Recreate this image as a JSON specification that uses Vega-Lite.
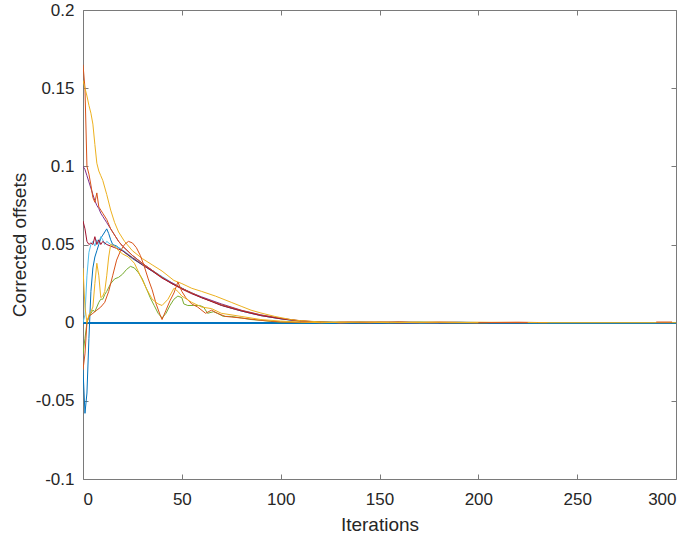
{
"$schema": "https://vega.github.io/schema/vega-lite/v6.json",
"width": 593, "height": 469,
"autosize": {"type": "none"},
"padding": {"left": 83, "top": 10, "right": 20, "bottom": 60},
"background": "white",
"config": {"view": {"stroke": null}, "axis": {"grid": false, "domainColor": "#7a7a7a", "tickColor": "#7a7a7a", "tickSize": -5, "labelFont": "Liberation Sans", "labelFontSize": 17, "labelColor": "#262626", "titleFont": "Liberation Sans", "titleFontSize": 19, "titleFontWeight": "normal", "titleColor": "#262626"}},
"data": {"values": [
{"s":"b","i":0,"v":-0.03},{"s":"b","i":1,"v":-0.058},{"s":"b","i":2,"v":-0.045},{"s":"b","i":3,"v":-0.01},{"s":"b","i":4,"v":0.02},{"s":"b","i":5,"v":0.035},{"s":"b","i":6,"v":0.042},{"s":"b","i":7,"v":0.046},{"s":"b","i":8,"v":0.05},{"s":"b","i":9,"v":0.054},{"s":"b","i":10,"v":0.056},{"s":"b","i":11,"v":0.058},{"s":"b","i":12,"v":0.06},{"s":"b","i":13,"v":0.057},{"s":"b","i":14,"v":0.053},{"s":"b","i":15,"v":0.05},{"s":"b","i":17,"v":0.049},{"s":"b","i":20,"v":0.046},{"s":"b","i":25,"v":0.041},{"s":"b","i":30,"v":0.037},{"s":"b","i":35,"v":0.033},{"s":"b","i":40,"v":0.029},{"s":"b","i":45,"v":0.025},{"s":"b","i":50,"v":0.022},{"s":"b","i":55,"v":0.019},{"s":"b","i":60,"v":0.016},{"s":"b","i":65,"v":0.0138},{"s":"b","i":70,"v":0.0112},{"s":"b","i":75,"v":0.0093},{"s":"b","i":80,"v":0.0076},{"s":"b","i":85,"v":0.006},{"s":"b","i":90,"v":0.0046},{"s":"b","i":95,"v":0.0035},{"s":"b","i":100,"v":0.0025},{"s":"b","i":105,"v":0.0016},{"s":"b","i":110,"v":0.001},{"s":"b","i":115,"v":0.0005},{"s":"b","i":120,"v":0.0002},{"s":"b","i":130,"v":0},{"s":"b","i":140,"v":0.0004},{"s":"b","i":150,"v":0},{"s":"b","i":160,"v":0.0003},{"s":"b","i":170,"v":0},{"s":"b","i":190,"v":0.0003},{"s":"b","i":205,"v":0},
{"s":"c","i":0,"v":0.0},{"s":"c","i":1,"v":0.005},{"s":"c","i":2,"v":0.03},{"s":"c","i":3,"v":0.045},{"s":"c","i":4,"v":0.05},{"s":"c","i":5,"v":0.052},{"s":"c","i":6,"v":0.049},{"s":"c","i":7,"v":0.053},{"s":"c","i":8,"v":0.051},{"s":"c","i":9,"v":0.055},{"s":"c","i":10,"v":0.053},{"s":"c","i":11,"v":0.05},{"s":"c","i":12,"v":0.052},{"s":"c","i":14,"v":0.05},{"s":"c","i":16,"v":0.049},{"s":"c","i":18,"v":0.048},{"s":"c","i":20,"v":0.0465},{"s":"c","i":25,"v":0.0418},{"s":"c","i":30,"v":0.0375},{"s":"c","i":35,"v":0.0335},{"s":"c","i":40,"v":0.0295},{"s":"c","i":45,"v":0.0255},{"s":"c","i":50,"v":0.0222},{"s":"c","i":55,"v":0.0188},{"s":"c","i":60,"v":0.0162},{"s":"c","i":70,"v":0.0112},{"s":"c","i":80,"v":0.0075},{"s":"c","i":90,"v":0.0045},{"s":"c","i":100,"v":0.0025},{"s":"c","i":110,"v":0.001},{"s":"c","i":120,"v":0.0003},{"s":"c","i":130,"v":0},{"s":"c","i":150,"v":0.0003},{"s":"c","i":165,"v":0},{"s":"c","i":180,"v":0},
{"s":"p","i":0,"v":0.1},{"s":"p","i":1,"v":0.098},{"s":"p","i":2,"v":0.094},{"s":"p","i":3,"v":0.09},{"s":"p","i":4,"v":0.086},{"s":"p","i":5,"v":0.082},{"s":"p","i":6,"v":0.078},{"s":"p","i":7,"v":0.075},{"s":"p","i":8,"v":0.073},{"s":"p","i":9,"v":0.07},{"s":"p","i":10,"v":0.068},{"s":"p","i":12,"v":0.064},{"s":"p","i":14,"v":0.06},{"s":"p","i":16,"v":0.056},{"s":"p","i":18,"v":0.052},{"s":"p","i":20,"v":0.049},{"s":"p","i":25,"v":0.043},{"s":"p","i":30,"v":0.038},{"s":"p","i":35,"v":0.0335},{"s":"p","i":40,"v":0.029},{"s":"p","i":45,"v":0.0255},{"s":"p","i":50,"v":0.022},{"s":"p","i":55,"v":0.019},{"s":"p","i":60,"v":0.0165},{"s":"p","i":70,"v":0.012},{"s":"p","i":80,"v":0.008},{"s":"p","i":90,"v":0.005},{"s":"p","i":100,"v":0.0028},{"s":"p","i":110,"v":0.0012},{"s":"p","i":120,"v":0.0004},{"s":"p","i":130,"v":0},{"s":"p","i":145,"v":0.0003},{"s":"p","i":160,"v":0},{"s":"p","i":200,"v":0},
{"s":"r","i":0,"v":0.165},{"s":"r","i":1,"v":0.15},{"s":"r","i":2,"v":0.1},{"s":"r","i":3,"v":0.095},{"s":"r","i":4,"v":0.088},{"s":"r","i":5,"v":0.08},{"s":"r","i":6,"v":0.077},{"s":"r","i":7,"v":0.083},{"s":"r","i":8,"v":0.074},{"s":"r","i":9,"v":0.072},{"s":"r","i":10,"v":0.07},{"s":"r","i":12,"v":0.066},{"s":"r","i":14,"v":0.06},{"s":"r","i":16,"v":0.056},{"s":"r","i":18,"v":0.052},{"s":"r","i":20,"v":0.049},{"s":"r","i":25,"v":0.043},{"s":"r","i":30,"v":0.038},{"s":"r","i":35,"v":0.0335},{"s":"r","i":40,"v":0.029},{"s":"r","i":45,"v":0.025},{"s":"r","i":50,"v":0.022},{"s":"r","i":55,"v":0.019},{"s":"r","i":60,"v":0.016},{"s":"r","i":70,"v":0.0115},{"s":"r","i":80,"v":0.0078},{"s":"r","i":90,"v":0.0048},{"s":"r","i":100,"v":0.0027},{"s":"r","i":110,"v":0.0011},{"s":"r","i":120,"v":0.0004},{"s":"r","i":130,"v":0},{"s":"r","i":150,"v":0.0004},{"s":"r","i":160,"v":0},{"s":"r","i":180,"v":0.0004},{"s":"r","i":200,"v":0},{"s":"r","i":220,"v":0.0003},{"s":"r","i":235,"v":0},
{"s":"d","i":0,"v":0.065},{"s":"d","i":1,"v":0.06},{"s":"d","i":2,"v":0.052},{"s":"d","i":3,"v":0.05},{"s":"d","i":4,"v":0.051},{"s":"d","i":5,"v":0.05},{"s":"d","i":6,"v":0.055},{"s":"d","i":7,"v":0.05},{"s":"d","i":8,"v":0.053},{"s":"d","i":9,"v":0.05},{"s":"d","i":10,"v":0.052},{"s":"d","i":12,"v":0.05},{"s":"d","i":14,"v":0.049},{"s":"d","i":16,"v":0.048},{"s":"d","i":18,"v":0.047},{"s":"d","i":20,"v":0.046},{"s":"d","i":25,"v":0.0415},{"s":"d","i":30,"v":0.037},{"s":"d","i":35,"v":0.033},{"s":"d","i":40,"v":0.0285},{"s":"d","i":45,"v":0.025},{"s":"d","i":50,"v":0.0215},{"s":"d","i":55,"v":0.0185},{"s":"d","i":60,"v":0.016},{"s":"d","i":70,"v":0.011},{"s":"d","i":80,"v":0.0075},{"s":"d","i":90,"v":0.0045},{"s":"d","i":100,"v":0.0025},{"s":"d","i":110,"v":0.001},{"s":"d","i":120,"v":0.0003},{"s":"d","i":130,"v":0},{"s":"d","i":170,"v":0},
{"s":"y1","i":0,"v":0.155},{"s":"y1","i":1,"v":0.15},{"s":"y1","i":2,"v":0.145},{"s":"y1","i":3,"v":0.139},{"s":"y1","i":4,"v":0.134},{"s":"y1","i":5,"v":0.127},{"s":"y1","i":6,"v":0.114},{"s":"y1","i":7,"v":0.102},{"s":"y1","i":8,"v":0.097},{"s":"y1","i":9,"v":0.094},{"s":"y1","i":10,"v":0.091},{"s":"y1","i":12,"v":0.082},{"s":"y1","i":14,"v":0.072},{"s":"y1","i":16,"v":0.064},{"s":"y1","i":18,"v":0.058},{"s":"y1","i":21,"v":0.052},{"s":"y1","i":25,"v":0.046},{"s":"y1","i":30,"v":0.041},{"s":"y1","i":35,"v":0.037},{"s":"y1","i":40,"v":0.033},{"s":"y1","i":46,"v":0.027},{"s":"y1","i":50,"v":0.025},{"s":"y1","i":55,"v":0.022},{"s":"y1","i":60,"v":0.02},{"s":"y1","i":67,"v":0.017},{"s":"y1","i":75,"v":0.013},{"s":"y1","i":80,"v":0.0105},{"s":"y1","i":85,"v":0.008},{"s":"y1","i":90,"v":0.0062},{"s":"y1","i":97,"v":0.004},{"s":"y1","i":105,"v":0.002},{"s":"y1","i":110,"v":0.0013},{"s":"y1","i":120,"v":0.0005},{"s":"y1","i":130,"v":0},{"s":"y1","i":150,"v":0.0004},{"s":"y1","i":170,"v":0},{"s":"y1","i":200,"v":0.0003},{"s":"y1","i":230,"v":0},{"s":"y1","i":300,"v":0},
{"s":"g","i":0,"v":-0.02},{"s":"g","i":1,"v":-0.01},{"s":"g","i":2,"v":0.0},{"s":"g","i":3,"v":0.004},{"s":"g","i":4,"v":0.006},{"s":"g","i":5,"v":0.008},{"s":"g","i":6,"v":0.007},{"s":"g","i":7,"v":0.01},{"s":"g","i":8,"v":0.013},{"s":"g","i":9,"v":0.015},{"s":"g","i":10,"v":0.015},{"s":"g","i":11,"v":0.018},{"s":"g","i":12,"v":0.02},{"s":"g","i":14,"v":0.025},{"s":"g","i":16,"v":0.028},{"s":"g","i":18,"v":0.029},{"s":"g","i":20,"v":0.031},{"s":"g","i":22,"v":0.034},{"s":"g","i":24,"v":0.036},{"s":"g","i":26,"v":0.035},{"s":"g","i":28,"v":0.032},{"s":"g","i":30,"v":0.028},{"s":"g","i":32,"v":0.022},{"s":"g","i":34,"v":0.016},{"s":"g","i":36,"v":0.011},{"s":"g","i":38,"v":0.006},{"s":"g","i":40,"v":0.003},{"s":"g","i":42,"v":0.006},{"s":"g","i":44,"v":0.011},{"s":"g","i":46,"v":0.015},{"s":"g","i":48,"v":0.017},{"s":"g","i":50,"v":0.016},{"s":"g","i":51,"v":0.012},{"s":"g","i":53,"v":0.011},{"s":"g","i":56,"v":0.011},{"s":"g","i":59,"v":0.011},{"s":"g","i":61,"v":0.01},{"s":"g","i":63,"v":0.006},{"s":"g","i":66,"v":0.007},{"s":"g","i":68,"v":0.006},{"s":"g","i":71,"v":0.004},{"s":"g","i":75,"v":0.004},{"s":"g","i":80,"v":0.003},{"s":"g","i":85,"v":0.002},{"s":"g","i":90,"v":0.0015},{"s":"g","i":95,"v":0.0008},{"s":"g","i":100,"v":0.0003},{"s":"g","i":110,"v":0},{"s":"g","i":130,"v":0.0004},{"s":"g","i":140,"v":0},{"s":"g","i":170,"v":0.0004},{"s":"g","i":185,"v":0},{"s":"g","i":205,"v":0},
{"s":"o","i":0,"v":-0.03},{"s":"o","i":1,"v":-0.02},{"s":"o","i":2,"v":0.0},{"s":"o","i":3,"v":0.004},{"s":"o","i":5,"v":0.006},{"s":"o","i":7,"v":0.008},{"s":"o","i":9,"v":0.01},{"s":"o","i":11,"v":0.013},{"s":"o","i":13,"v":0.02},{"s":"o","i":15,"v":0.03},{"s":"o","i":17,"v":0.04},{"s":"o","i":19,"v":0.046},{"s":"o","i":21,"v":0.05},{"s":"o","i":23,"v":0.052},{"s":"o","i":25,"v":0.051},{"s":"o","i":27,"v":0.048},{"s":"o","i":29,"v":0.043},{"s":"o","i":31,"v":0.036},{"s":"o","i":33,"v":0.028},{"s":"o","i":35,"v":0.021},{"s":"o","i":37,"v":0.012},{"s":"o","i":39,"v":0.005},{"s":"o","i":40,"v":0.002},{"s":"o","i":42,"v":0.008},{"s":"o","i":44,"v":0.014},{"s":"o","i":46,"v":0.019},{"s":"o","i":48,"v":0.026},{"s":"o","i":50,"v":0.02},{"s":"o","i":52,"v":0.016},{"s":"o","i":55,"v":0.012},{"s":"o","i":58,"v":0.01},{"s":"o","i":62,"v":0.006},{"s":"o","i":65,"v":0.008},{"s":"o","i":68,"v":0.006},{"s":"o","i":72,"v":0.004},{"s":"o","i":80,"v":0.003},{"s":"o","i":90,"v":0.0015},{"s":"o","i":100,"v":0.0005},{"s":"o","i":110,"v":0.0003},{"s":"o","i":120,"v":0},{"s":"o","i":135,"v":0.0005},{"s":"o","i":145,"v":0},{"s":"o","i":160,"v":0.0005},{"s":"o","i":175,"v":0},{"s":"o","i":225,"v":0},
{"s":"y2","i":0,"v":0.035},{"s":"y2","i":1,"v":0.01},{"s":"y2","i":2,"v":0.0},{"s":"y2","i":3,"v":0.005},{"s":"y2","i":4,"v":0.007},{"s":"y2","i":5,"v":0.01},{"s":"y2","i":6,"v":0.025},{"s":"y2","i":7,"v":0.038},{"s":"y2","i":8,"v":0.03},{"s":"y2","i":9,"v":0.016},{"s":"y2","i":10,"v":0.017},{"s":"y2","i":11,"v":0.02},{"s":"y2","i":12,"v":0.03},{"s":"y2","i":13,"v":0.042},{"s":"y2","i":14,"v":0.05},{"s":"y2","i":16,"v":0.049},{"s":"y2","i":18,"v":0.046},{"s":"y2","i":20,"v":0.044},{"s":"y2","i":23,"v":0.042},{"s":"y2","i":26,"v":0.038},{"s":"y2","i":29,"v":0.03},{"s":"y2","i":32,"v":0.022},{"s":"y2","i":35,"v":0.015},{"s":"y2","i":38,"v":0.012},{"s":"y2","i":40,"v":0.011},{"s":"y2","i":43,"v":0.015},{"s":"y2","i":46,"v":0.022},{"s":"y2","i":48,"v":0.02},{"s":"y2","i":50,"v":0.017},{"s":"y2","i":55,"v":0.013},{"s":"y2","i":60,"v":0.01},{"s":"y2","i":65,"v":0.009},{"s":"y2","i":70,"v":0.006},{"s":"y2","i":80,"v":0.004},{"s":"y2","i":90,"v":0.002},{"s":"y2","i":100,"v":0.001},{"s":"y2","i":110,"v":0.0004},{"s":"y2","i":120,"v":0},{"s":"y2","i":140,"v":0.0004},{"s":"y2","i":155,"v":0},{"s":"y2","i":180,"v":0.0003},{"s":"y2","i":200,"v":0},
{"s":"o2","i":290,"v":0.0004},{"s":"o2","i":298,"v":0.0004}
]},
"layer": [
{"mark": {"type": "rule", "color": "#0072BD", "strokeWidth": 1}, "encoding": {"y": {"datum": 0, "type": "quantitative", "axis": null}}},
{"mark": {"type": "line", "strokeWidth": 1, "clip": true},
 "encoding": {
  "x": {"field": "i", "type": "quantitative", "scale": {"domain": [0, 300], "nice": false, "zero": false},
        "axis": {"orient": "bottom", "values": [0,50,100,150,200,250,300], "title": "Iterations", "labelPadding": 17, "titleY": 45, "titleBaseline": "middle"}},
  "y": {"field": "v", "type": "quantitative", "scale": {"domain": [-0.1, 0.2], "nice": false, "zero": false},
        "axis": {"orient": "left", "values": [-0.1,-0.05,0,0.05,0.1,0.15,0.2], "labelExpr": "'' + datum.value", "title": "Corrected offsets", "labelPadding": 14, "titleX": -64, "titleBaseline": "middle"}},
  "color": {"field": "s", "type": "nominal", "legend": null,
            "scale": {"domain": ["b","c","p","r","d","y1","g","o","y2","o2"], "range": ["#0072BD","#4DBEEE","#7E2F8E","#D95319","#A2142F","#EDB120","#77AC30","#D95319","#EDB120","#D95319"]}}
 }},
{"mark": {"type": "line", "opacity": 0},
 "encoding": {
  "x": {"field": "i", "type": "quantitative", "axis": {"orient": "top", "values": [0,50,100,150,200,250,300], "labels": false, "title": null}},
  "y": {"field": "v", "type": "quantitative", "axis": {"orient": "right", "values": [-0.1,-0.05,0,0.05,0.1,0.15,0.2], "labels": false, "title": null}}
 }}
],
"resolve": {"axis": {"x": "independent", "y": "independent"}}
}
